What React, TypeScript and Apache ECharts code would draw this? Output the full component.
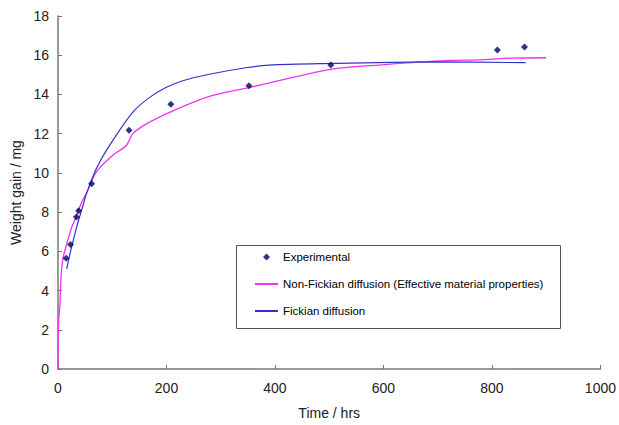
import React, { useEffect, useRef } from "react";
import * as echarts from "echarts";

const expTime = [15, 23, 34, 38, 62, 131, 208, 352, 503, 810, 860];
const expWeight = [5.65, 6.35, 7.75, 8.07, 9.45, 12.17, 13.5, 14.44, 15.5, 16.26, 16.42];

const nonFickTime = [0, 0.5, 1.5, 3.5, 5, 7, 10, 16, 25, 34, 43, 55, 71, 101, 126, 138, 163, 211, 279, 352, 503, 591, 695, 787, 835, 900];
const nonFickWeight = [0, 1.8, 2.6, 3.2, 4.4, 5.2, 5.75, 6.37, 7.2, 7.8, 8.47, 9.1, 10.07, 10.9, 11.4, 12.0, 12.5, 13.15, 13.9, 14.35, 15.28, 15.5, 15.7, 15.78, 15.85, 15.87];

const fickTime = [16, 22, 34, 43, 54, 71, 95, 138, 169, 199, 230, 279, 346, 389, 503, 695, 862];
const fickWeight = [5.1, 5.87, 7.2, 8.05, 9.06, 10.24, 11.4, 13.1, 13.85, 14.35, 14.7, 15.03, 15.36, 15.5, 15.58, 15.66, 15.62];

const xTicks = { min: 0, max: 1000, interval: 200 };
const yTicks = { min: 0, max: 18, interval: 2 };

const zip = (a: number[], b: number[]) => a.map((v, i) => [v, b[i]]);

export default function App() {
  const ref = useRef<HTMLDivElement>(null);
  useEffect(() => {
    if (!ref.current) return;
    const chart = echarts.init(ref.current, undefined, { renderer: "svg" });
    const font = "Arial, 'Liberation Sans', sans-serif";
    chart.setOption({
      animation: false,
      backgroundColor: "#ffffff",
      textStyle: { fontFamily: font },
      grid: { left: 58, right: 16, top: 16, bottom: 52 },
      xAxis: {
        type: "value",
        min: xTicks.min,
        max: xTicks.max,
        interval: xTicks.interval,
        name: "Time / hrs",
        nameLocation: "middle",
        nameGap: 37,
        nameTextStyle: { fontSize: 14, color: "#222", fontFamily: font },
        axisLine: { lineStyle: { color: "#777", width: 1.5 } },
        axisTick: { inside: true, length: 4, lineStyle: { color: "#777" } },
        axisLabel: { fontSize: 14, color: "#222", margin: 12, fontFamily: font, formatter: (v: number) => String(v) },
        splitLine: { show: false },
      },
      yAxis: {
        type: "value",
        min: yTicks.min,
        max: yTicks.max,
        interval: yTicks.interval,
        name: "Weight gain / mg",
        nameLocation: "middle",
        nameGap: 32,
        nameTextStyle: { fontSize: 14, color: "#222", fontFamily: font },
        axisLine: { show: true, lineStyle: { color: "#777", width: 1.5 } },
        axisTick: { show: true, inside: true, length: 4, lineStyle: { color: "#777" } },
        axisLabel: { fontSize: 14, color: "#222", margin: 9, fontFamily: font },
        splitLine: { show: false },
      },
      graphic: [
        {
          type: "rect",
          shape: { x: 236.5, y: 245.5, width: 324, height: 83 },
          style: { fill: "#fff", stroke: "#555", lineWidth: 1 },
          z: 100,
        },
      ],
      legend: {
        orient: "vertical",
        left: 249,
        top: 246,
        itemWidth: 23,
        itemHeight: 7,
        itemGap: 15,
        symbolKeepAspect: true,
        z: 101,
        textStyle: { fontSize: 11.5, color: "#000", fontFamily: font },
        data: [
          { name: "Experimental", icon: "path://M5,0 L10,5 L5,10 L0,5 Z", itemStyle: { color: "#000066" } },
          { name: "Non-Fickian diffusion (Effective material properties)", itemStyle: { opacity: 0 } },
          { name: "Fickian diffusion", itemStyle: { opacity: 0 } },
        ],
      },
      series: [
        {
          name: "Experimental",
          type: "scatter",
          symbol: "diamond",
          symbolSize: 7,
          itemStyle: { color: "#000066" },
          data: zip(expTime, expWeight),
          z: 5,
        },
        {
          name: "Non-Fickian diffusion (Effective material properties)",
          type: "line",
          showSymbol: false,
          symbol: "none",
          smooth: 0.3,
          lineStyle: { color: "#ee33ee", width: 1.3 },
          itemStyle: { color: "#ee33ee" },
          data: zip(nonFickTime, nonFickWeight),
        },
        {
          name: "Fickian diffusion",
          type: "line",
          showSymbol: false,
          symbol: "none",
          smooth: 0.3,
          lineStyle: { color: "#3333cc", width: 1.2 },
          itemStyle: { color: "#3333cc" },
          data: zip(fickTime, fickWeight),
        },
      ],
    });
    return () => chart.dispose();
  }, []);
  return <div ref={ref} style={{ width: 619, height: 425, position: "absolute", left: 0, top: 0 }} />;
}
